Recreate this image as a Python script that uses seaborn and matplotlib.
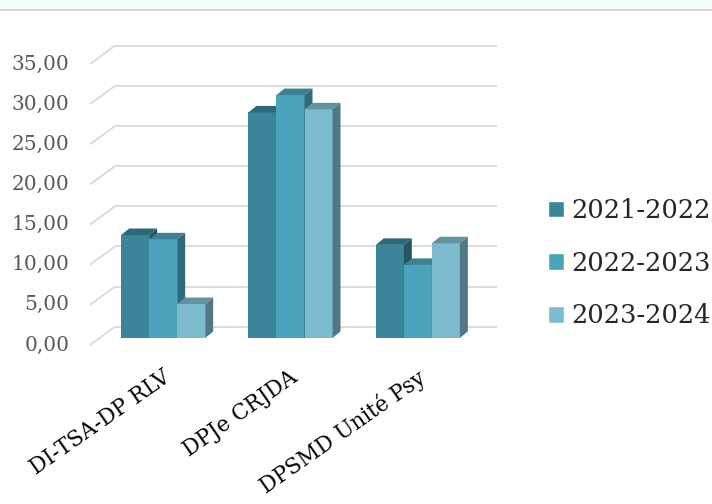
import numpy as np
import pandas as pd
import matplotlib
matplotlib.use("Agg")
import matplotlib.pyplot as plt
import seaborn as sns
from matplotlib.patches import Polygon, Rectangle
import matplotlib.colors as mcolors

# ---- data ----
categories = ["DI-TSA-DP RLV", "DPJe CRJDA", "DPSMD Unité Psy"]
years = ["2021-2022", "2022-2023", "2023-2024"]
v2021_2022 = [12.83, 28.10, 11.60]
v2022_2023 = [12.29, 30.26, 9.10]
v2023_2024 = [4.23, 28.48, 11.80]
yticks = [0, 5, 10, 15, 20, 25, 30, 35]
ytick_labels = ["0,00", "5,00", "10,00", "15,00", "20,00", "25,00", "30,00", "35,00"]

colors = ["#3a8599", "#4ba4bc", "#7fbbcf"]

rows = []
for yr, vals in zip(years, [v2021_2022, v2022_2023, v2023_2024]):
    for c, v in zip(categories, vals):
        rows.append({"cat": c, "year": yr, "val": v})
df = pd.DataFrame(rows)

sns.set_theme(style="white")
plt.rcParams["font.family"] = ["DejaVu Serif"]

W, H = 712, 504
fig = plt.figure(figsize=(W / 100, H / 100), dpi=100)
fig.patch.set_facecolor("white")
fig.add_artist(Rectangle((0, 1 - 9 / H), 1, 9 / H, transform=fig.transFigure,
                         fc="#f4fbfb", ec="none"))
fig.add_artist(Rectangle((0, 1 - 11 / H), 1, 2 / H, transform=fig.transFigure,
                         fc="#d6d6d6", ec="none"))

ax = fig.add_axes([99.5 / W, (H - 338) / H, 382 / W, 281 / H])
ax.set_facecolor("none")
sns.barplot(data=df, x="cat", y="val", hue="year", order=categories,
            hue_order=years, palette=colors, width=0.66, saturation=1,
            ax=ax, legend=True)
handles, labels = ax.get_legend_handles_labels()
if ax.get_legend() is not None:
    ax.get_legend().remove()

ax.set_xlim(-0.5, 2.5)
ax.set_ylim(0, 35)
ax.set_xticks([])
ax.set_yticks([])
ax.set_xlabel("")
ax.set_ylabel("")
for s in ax.spines.values():
    s.set_visible(False)


def shift(x, y, dx, dy):
    px, py = ax.transData.transform((x, y))
    return ax.transData.inverted().transform((px + dx, py + dy))


def darker(c, f):
    r, g, b = mcolors.to_rgb(c)
    return (r * f, g * f, b * f)


# back wall grid + diagonal side lines
WALL = (15.5, 11.3)
FRONT = (-9.5, -7.0)
for v, lab in zip(yticks, ytick_labels):
    a = shift(-0.5, v, *WALL)
    b = shift(2.5, v, *WALL)
    c = shift(-0.5, v, *FRONT)
    ax.plot([a[0], b[0]], [a[1], b[1]], color="#d9d9d9", lw=1.3, zorder=1,
            clip_on=False, solid_capstyle="butt")
    ax.plot([c[0], a[0]], [c[1], a[1]], color="#d9d9d9", lw=1.3, zorder=1,
            clip_on=False, solid_capstyle="butt")
    t = shift(-0.5, v, -30.0, -7.0)
    ax.text(t[0], t[1], lab, ha="right", va="center", fontsize=14.5,
            color="#595959", clip_on=False)

# pseudo-3D bars
DX, DY = 8.0, 6.5
bars = [p for p in ax.patches if p.get_height() > 0]
bars.sort(key=lambda p: p.get_x())
for i, p in enumerate(bars):
    fc = p.get_facecolor()
    p.set_edgecolor("none")
    p.set_zorder(10 + 3 * i)
    x0 = p.get_x()
    x1 = x0 + p.get_width()
    h = p.get_height()
    top = [(x0, h), (x1, h), tuple(shift(x1, h, DX, DY)), tuple(shift(x0, h, DX, DY))]
    side = [(x1, 0), (x1, h), tuple(shift(x1, h, DX, DY)), tuple(shift(x1, 0, DX, DY))]
    ax.add_patch(Polygon(top, closed=True, fc=darker(fc[:3], 0.78), ec="none",
                         zorder=10 + 3 * i + 1, clip_on=False))
    ax.add_patch(Polygon(side, closed=True, fc=darker(fc[:3], 0.64), ec="none",
                         zorder=10 + 3 * i + 2, clip_on=False))

# category labels
for i, c in enumerate(categories):
    t = shift(i, 0, -1, -28)
    ax.text(t[0], t[1], c, ha="right", va="top", rotation=35,
            rotation_mode="anchor", fontsize=15.5, color="black", clip_on=False)

fig.legend(handles, years, loc="upper left", bbox_to_anchor=(548 / W, 1 - 198 / H),
           frameon=False, fontsize=18.5, handlelength=0.62, handleheight=0.62,
           handletextpad=0.3, labelspacing=1.08, borderpad=0, borderaxespad=0)

fig.savefig("out.png", dpi=100, facecolor="white")
